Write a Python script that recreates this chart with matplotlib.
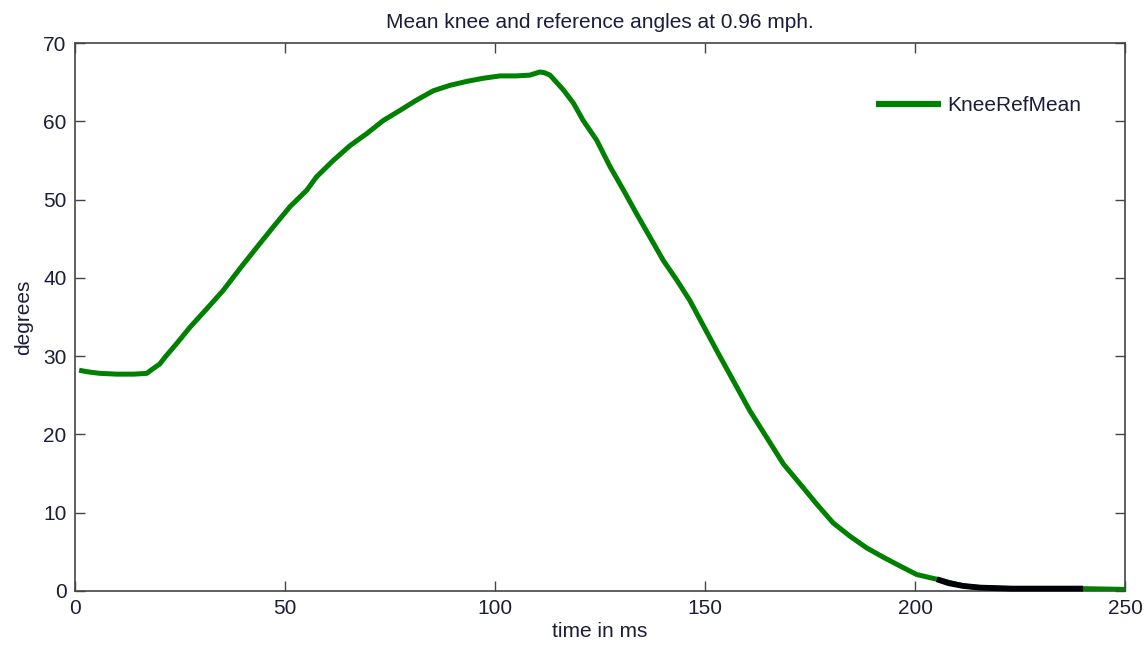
import matplotlib
matplotlib.use("Agg")
import matplotlib.pyplot as plt

plt.rcParams['font.family'] = ['Liberation Sans', 'DejaVu Sans']

# Mean knee reference angle over the gait cycle
time_ms = [1, 3, 4.4, 6, 10, 14, 17.1, 18.6, 20.2, 21.5, 24.2, 27.4, 31.3, 35.3,
           39.3, 43.3, 47.2, 51.2, 55.2, 57.5, 61.5, 65.5, 69.4, 73.4, 77.4,
           81.3, 85.3, 89.3, 93.3, 97.2, 101.2, 105, 108.3, 110.7, 111.8,
           113.1, 116.3, 118.7, 121.0, 124.2, 127.4, 130.6, 133.7, 136.9,
           140.1, 143.3, 146.4, 148.8, 152.8, 156.7, 160.7, 164.7, 168.7,
           172.6, 176.6, 180.5, 184.5, 188.5, 192.5, 196.4, 200.4, 205.2,
           211.5, 215.5, 223, 232, 240, 250]
knee_deg = [28.2, 28.0, 27.9, 27.8, 27.7, 27.7, 27.8, 28.4, 29.0, 29.9, 31.6,
            33.7, 36.0, 38.4, 41.2, 43.9, 46.5, 49.1, 51.2, 52.9, 55.0, 56.9,
            58.4, 60.1, 61.4, 62.7, 63.9, 64.6, 65.1, 65.5, 65.8, 65.8, 65.9,
            66.3, 66.2, 65.9, 64.0, 62.3, 60.1, 57.6, 54.2, 51.2, 48.2, 45.2,
            42.2, 39.7, 37.1, 34.7, 30.7, 26.9, 23.0, 19.6, 16.2, 13.7, 11.1,
            8.7, 7.0, 5.5, 4.3, 3.2, 2.1, 1.5, 0.64, 0.43, 0.3, 0.3, 0.3, 0.2]

# Overlapping dark trace near the end of the cycle
tail_ms = [205.2, 208, 211.5, 215.5, 223, 232, 240]
tail_deg = [1.5, 1.0, 0.64, 0.43, 0.3, 0.3, 0.3]

x_ticks = [0, 50, 100, 150, 200, 250]
y_ticks = [0, 10, 20, 30, 40, 50, 60, 70]

text_col = '#1c1c3c'
spine_col = '#444444'
fs = 15

fig = plt.figure(figsize=(11.46, 6.49), dpi=100)
ax = fig.add_axes([0.0654, 0.0894, 0.9163, 0.8443])

ax.plot(time_ms, knee_deg, color='#008000', lw=3.6, solid_capstyle='butt',
        solid_joinstyle='round', label='KneeRefMean', zorder=3)
ax.plot(tail_ms, tail_deg, color='#000008', lw=4.2, solid_capstyle='butt',
        zorder=4, clip_on=False)

ax.set_xlim(0, 250)
ax.set_ylim(0, 70)
ax.set_xticks(x_ticks)
ax.set_yticks(y_ticks)
ax.tick_params(direction='in', length=7, width=1, color=spine_col,
               top=True, right=True, labelsize=fs, labelcolor=text_col,
               pad=6)
for s in ax.spines.values():
    s.set_color(spine_col)
    s.set_linewidth(1.2)

ax.set_title('Mean knee and reference angles at 0.96 mph.', fontsize=fs,
             color=text_col, pad=11)
ax.set_xlabel('time in ms', fontsize=fs, color=text_col, labelpad=3)
ax.set_ylabel('degrees', fontsize=fs, color=text_col, labelpad=7)

leg = ax.legend(loc='upper left', bbox_to_anchor=(0.747, 0.934),
                frameon=False, fontsize=fs, handlelength=3.1,
                handletextpad=0.3, borderpad=0.3)
for t in leg.get_texts():
    t.set_color(text_col)
for h in leg.get_lines():
    h.set_linewidth(4.5)

fig.savefig('out.png', dpi=100, facecolor='white')
